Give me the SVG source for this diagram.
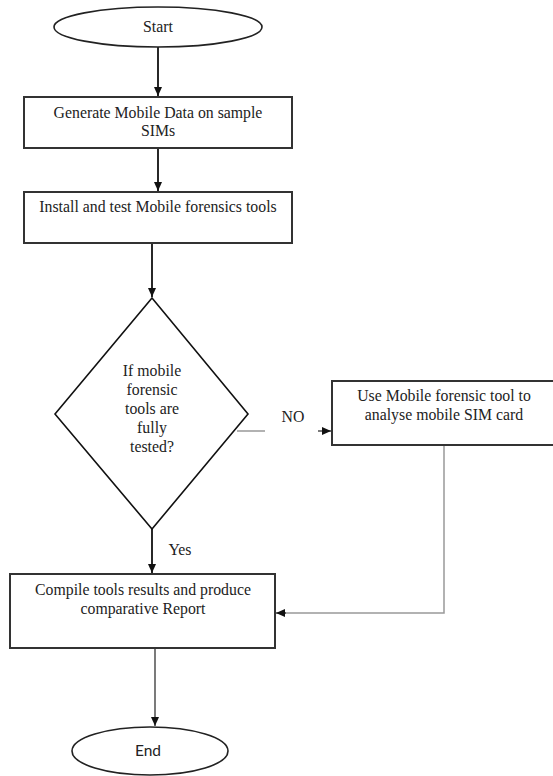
<svg xmlns="http://www.w3.org/2000/svg" width="553" height="776" viewBox="0 0 553 776">
<style>
  .t{font-family:"Liberation Serif","Times New Roman",serif;font-size:15.8px;fill:#222;text-anchor:middle}
  .s{font-family:Lato,"Open Sans",sans-serif;font-size:15.5px;fill:#222;text-anchor:middle}
  .box{fill:#fff;stroke:#333;stroke-width:2}
  .dia{fill:#fff;stroke:#111;stroke-width:1.6}
  .ell{fill:#fff;stroke:#222;stroke-width:1.6}
  .blk{fill:none;stroke:#111;stroke-width:1.8}
  .gry{fill:none;stroke:#999;stroke-width:1.5}
  .thin{fill:none;stroke:#222;stroke-width:1.2}
</style>
<defs>
  <marker id="ah" markerWidth="10" markerHeight="10" refX="9" refY="5" orient="auto" markerUnits="userSpaceOnUse">
    <path d="M0,1 L9,5 L0,9 Z" fill="#111"/>
  </marker>
</defs>
<rect width="553" height="776" fill="#fff"/>
<g id="connectors">
  <line class="blk" x1="158" y1="47" x2="158" y2="96" marker-end="url(#ah)"/>
  <line class="blk" x1="158" y1="149" x2="158" y2="191" marker-end="url(#ah)"/>
  <line class="blk" x1="152" y1="244" x2="152" y2="297" marker-end="url(#ah)"/>
  <line class="blk" x1="152" y1="529" x2="152" y2="573" marker-end="url(#ah)"/>
  <line class="gry" x1="237" y1="431" x2="265" y2="431"/>
  <line class="thin" x1="318" y1="431" x2="331" y2="431" marker-end="url(#ah)"/>
  <polyline class="gry" points="444,446 444,613 284,613"/>
  <line class="thin" x1="286" y1="613" x2="276" y2="613" marker-end="url(#ah)"/>
  <line class="thin" x1="155" y1="649" x2="155" y2="726" marker-end="url(#ah)"/>
  <text class="t" x="293" y="422">NO</text>
  <text class="t" x="180" y="555">Yes</text>
</g>
<g id="start">
  <ellipse class="ell" cx="158" cy="27" rx="104" ry="20"/>
  <text class="t" x="158" y="32">Start</text>
</g>
<g id="generate">
  <rect class="box" x="24" y="97" width="268" height="51"/>
  <text class="t" x="158" y="118">Generate Mobile Data on sample</text>
  <text class="t" x="158" y="136">SIMs</text>
</g>
<g id="install">
  <rect class="box" x="24" y="192" width="268" height="51"/>
  <text class="t" x="158" y="212">Install and test Mobile forensics tools</text>
</g>
<g id="decision">
  <polygon class="dia" points="152,298 248,414 152,529 55,414"/>
  <text class="t" x="152" y="376">If mobile</text>
  <text class="t" x="152" y="395">forensic</text>
  <text class="t" x="152" y="414">tools are</text>
  <text class="t" x="152" y="433">fully</text>
  <text class="t" x="152" y="452">tested?</text>
</g>
<g id="analyse">
  <rect class="box" x="332" y="381" width="240" height="64"/>
  <text class="t" x="444" y="401">Use Mobile forensic tool to</text>
  <text class="t" x="444" y="420">analyse mobile SIM card</text>
</g>
<g id="compile">
  <rect class="box" x="10" y="574" width="265" height="74"/>
  <text class="t" x="143" y="595">Compile tools results and produce</text>
  <text class="t" x="143" y="614">comparative Report</text>
</g>
<g id="end">
  <ellipse class="ell" cx="150" cy="751" rx="78" ry="24"/>
  <text class="s" x="148" y="756">End</text>
</g>
</svg>
